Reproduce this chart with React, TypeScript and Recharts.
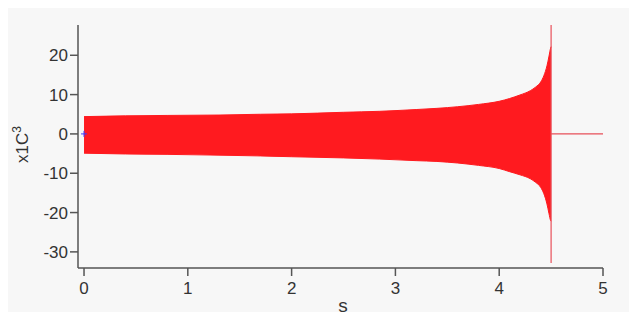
import React from "react";
import { Area, ComposedChart, Line, Scatter, XAxis, YAxis } from "recharts";

// envelope of the chirp (seconds, upper / lower amplitude in x10^3)
const bandTime = [0, 0.4, 0.8, 1.3, 1.7, 2.0, 2.5, 2.85, 3.2, 3.4, 3.8, 4.0, 4.1, 4.2, 4.3, 4.35, 4.4, 4.43, 4.46, 4.48, 4.495, 4.5];
const bandHigh = [4.4, 4.6, 4.7, 4.8, 5.0, 5.1, 5.5, 5.75, 6.2, 6.5, 7.5, 8.3, 9.0, 9.9, 11.0, 11.9, 13.2, 14.8, 17.3, 19.8, 21.8, 22.2];
const bandLow = [-4.9, -5.1, -5.2, -5.4, -5.6, -5.8, -6.1, -6.4, -6.8, -7.0, -8.0, -8.8, -9.6, -10.4, -11.4, -12.3, -13.6, -15.2, -17.8, -20.3, -22.0, -22.2];

// merger spike and flat tail
const ringTime = [4.5, 4.5, 4.5, 5.0];
const ringValue = [27.7, -32.8, 0, 0];

const xTicks = [0, 1, 2, 3, 4, 5];
const yTicks = [-30, -20, -10, 0, 10, 20];

const bandData = bandTime.map((t, i) => ({ t, band: [bandLow[i], bandHigh[i]] }));
const ringData = ringTime.map((t, i) => ({ t, v: ringValue[i] }));
const originData = [{ t: 0, v: 0 }];

const FONT = "'Liberation Sans', Arial, sans-serif";

const OriginMark = (props: any) => {
  const { cx, cy } = props;
  return (
    <g stroke="#3a3aff" strokeWidth={1}>
      <line x1={cx - 3} y1={cy} x2={cx + 3} y2={cy} />
      <line x1={cx} y1={cy - 3} x2={cx} y2={cy + 3} />
    </g>
  );
};

export default function App() {
  return (
    <div style={{ margin: -8, width: 637, height: 320, background: "#05080f", position: "relative", overflow: "hidden" }}>
      <div style={{ position: "absolute", left: 8, top: 6, width: 629, height: 314, background: "#f7f7f7" }} />
      <div style={{ position: "absolute", left: 0, top: 0 }}>
        <ComposedChart width={637} height={320} data={bandData} margin={{ top: 25, right: 34, bottom: 0, left: 18 }}>
          <XAxis
            dataKey="t"
            type="number"
            domain={[-0.058, 5]}
            ticks={xTicks}
            allowDataOverflow
            height={52}
            stroke="#555"
            strokeWidth={1.5}
            tickSize={8}
            tickMargin={6}
            tick={{ fontSize: 17, fill: "#333", fontFamily: FONT }}
          />
          <YAxis
            type="number"
            domain={[-34.1, 27.7]}
            ticks={yTicks}
            allowDataOverflow
            width={60}
            stroke="#555"
            strokeWidth={1.5}
            tickSize={8}
            tickMargin={2}
            tick={{ fontSize: 17, fill: "#333", fontFamily: FONT }}
            label={{
              content: () => (
                <text transform="translate(28,163) rotate(-90)" fontSize={17} fill="#333" fontFamily={FONT}>
                  x1C<tspan dy={-7} fontSize={12}>3</tspan>
                </text>
              ),
            }}
          />
          <Area
            dataKey="band"
            type="monotone"
            fill="#ff1a1f"
            fillOpacity={1}
            stroke="#ff1a1f"
            strokeWidth={1}
            isAnimationActive={false}
            dot={false}
            activeDot={false}
          />
          <Line
            data={ringData}
            dataKey="v"
            type="linear"
            stroke="#e8505a"
            strokeWidth={1.2}
            dot={false}
            activeDot={false}
            isAnimationActive={false}
          />
          <Scatter data={originData} dataKey="v" shape={OriginMark} isAnimationActive={false} />
        </ComposedChart>
      </div>
      <div
        style={{
          position: "absolute",
          left: 323,
          top: 296,
          width: 40,
          textAlign: "center",
          fontSize: 19,
          lineHeight: "20px",
          color: "#333",
          fontFamily: FONT,
        }}
      >
        s
      </div>
    </div>
  );
}
